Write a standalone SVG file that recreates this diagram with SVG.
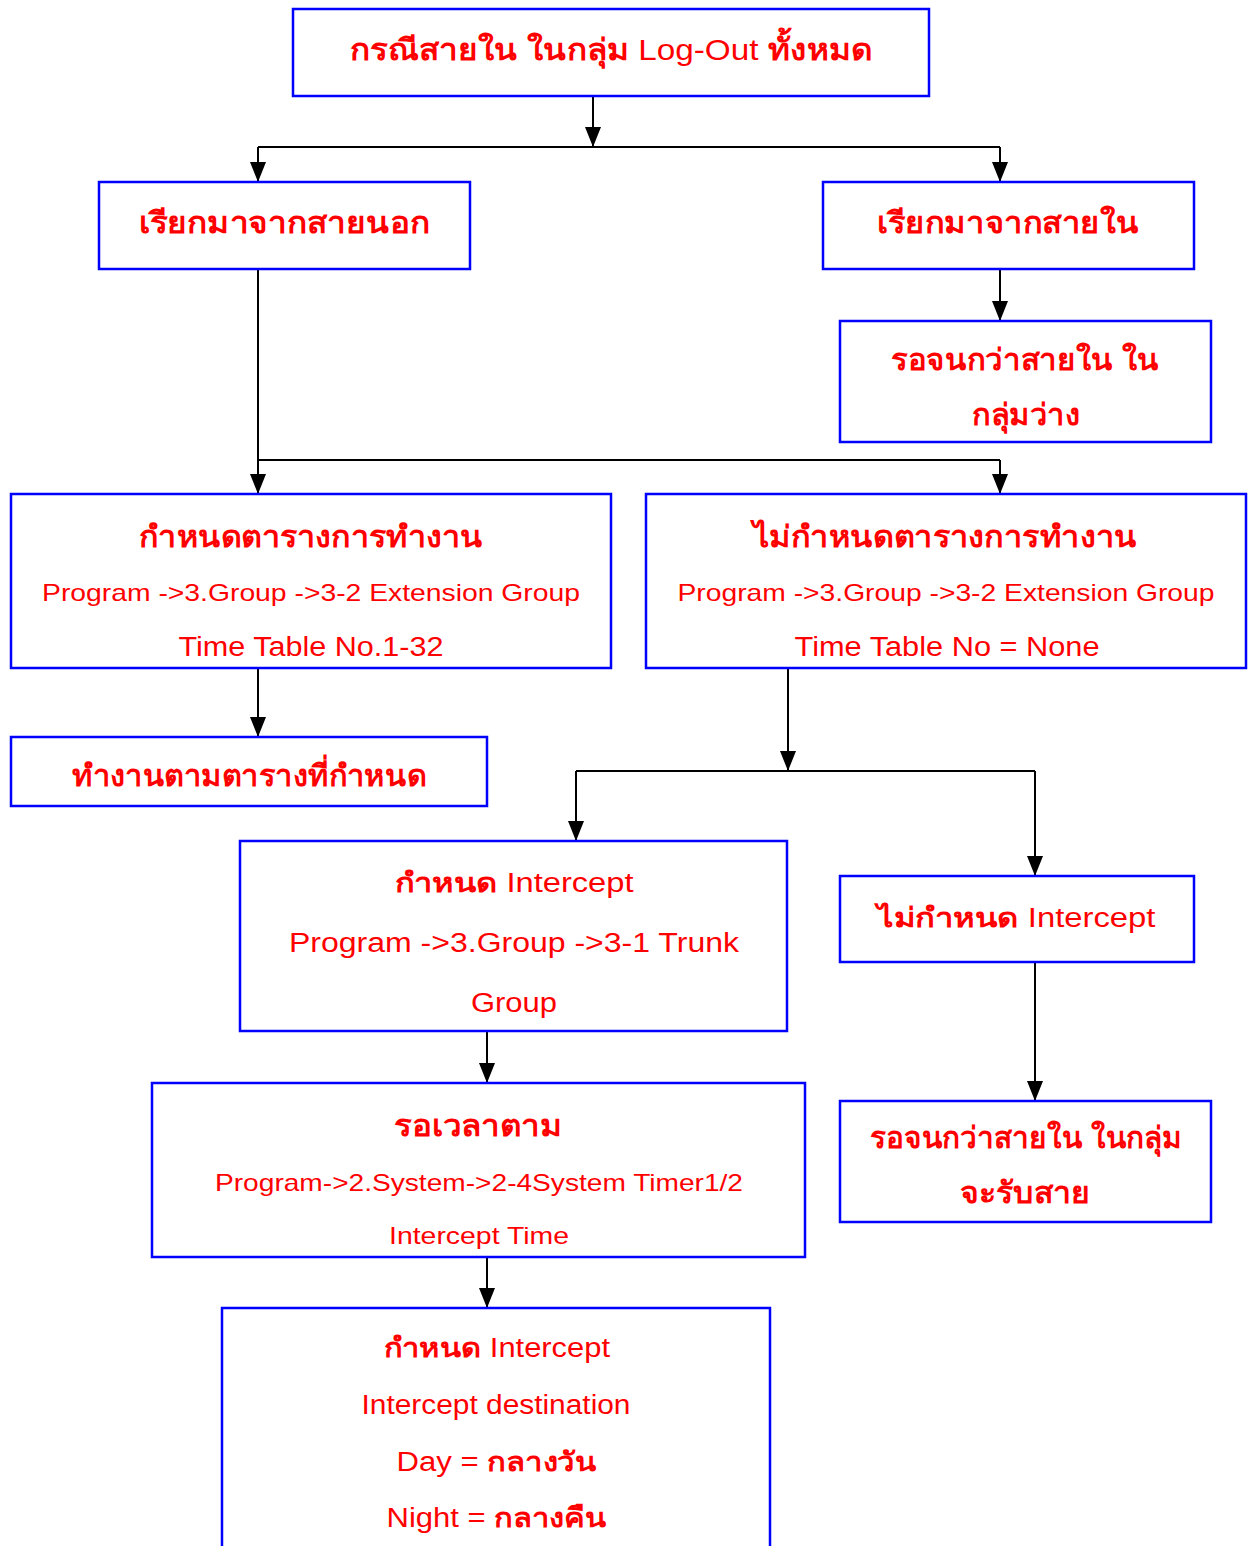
<svg xmlns="http://www.w3.org/2000/svg" width="1254" height="1546" viewBox="0 0 1254 1546">
<defs>
<marker id="arr" markerWidth="20" markerHeight="16" refX="20" refY="8" orient="auto" markerUnits="userSpaceOnUse" viewBox="0 0 20 16">
<path d="M0,0 L20,8 L0,16 Z" fill="#000"/>
</marker>
<style>
.box{fill:#fff;stroke:#0000ff;stroke-width:2.5}
.t{font-family:"Liberation Sans","Noto Sans",sans-serif;fill:#ff0000;text-anchor:middle}
.h{font-size:30px;font-weight:bold}
.s{font-size:24px}
.m{font-size:27px}
.c{fill:none;stroke:#000;stroke-width:2}
.ca{fill:none;stroke:#000;stroke-width:2;marker-end:url(#arr)}
</style>
</defs>
<rect width="1254" height="1546" fill="#fff"/>
<g id="connectors">
<path class="ca" d="M593,96 V147"/>
<path class="c" d="M258,147 H1000"/>
<path class="ca" d="M258,147 V182"/>
<path class="ca" d="M1000,147 V182"/>
<path class="ca" d="M1000,269 V321"/>
<path class="ca" d="M258,269 V494"/>
<path class="c" d="M258,460 H1000"/>
<path class="ca" d="M1000,460 V494"/>
<path class="ca" d="M258,668 V737"/>
<path class="ca" d="M788,668 V771"/>
<path class="c" d="M576,771 H1035"/>
<path class="ca" d="M576,771 V841"/>
<path class="ca" d="M1035,771 V876"/>
<path class="ca" d="M1035,962 V1101"/>
<path class="ca" d="M487,1031 V1083"/>
<path class="ca" d="M487,1257 V1308"/>
</g>
<g id="n1">
<rect class="box" x="293" y="9" width="636" height="87"/>
<text class="t h" x="611" y="60" textLength="522" lengthAdjust="spacingAndGlyphs">กรณีสายใน ในกลุ่ม <tspan font-weight="normal">Log-Out</tspan> ทั้งหมด</text>
</g>
<g id="n2">
<rect class="box" x="99" y="182" width="371" height="87"/>
<text class="t h" x="284" y="233" textLength="291" lengthAdjust="spacingAndGlyphs">เรียกมาจากสายนอก</text>
</g>
<g id="n3">
<rect class="box" x="823" y="182" width="371" height="87"/>
<text class="t h" x="1008" y="233" textLength="262" lengthAdjust="spacingAndGlyphs">เรียกมาจากสายใน</text>
</g>
<g id="n4">
<rect class="box" x="840" y="321" width="371" height="121"/>
<text class="t h" x="1025" y="370" textLength="268" lengthAdjust="spacingAndGlyphs">รอจนกว่าสายใน ใน</text>
<text class="t h" x="1026" y="425" textLength="108" lengthAdjust="spacingAndGlyphs">กลุ่มว่าง</text>
</g>
<g id="n5">
<rect class="box" x="11" y="494" width="600" height="174"/>
<text class="t h" x="311" y="547" textLength="344" lengthAdjust="spacingAndGlyphs">กำหนดตารางการทำงาน</text>
<text class="t s" x="311" y="601" textLength="538" lengthAdjust="spacingAndGlyphs">Program ->3.Group ->3-2 Extension Group</text>
<text class="t m" x="311" y="656" textLength="265" lengthAdjust="spacingAndGlyphs">Time Table No.1-32</text>
</g>
<g id="n6">
<rect class="box" x="646" y="494" width="600" height="174"/>
<text class="t h" x="945" y="547" textLength="384" lengthAdjust="spacingAndGlyphs">ไม่กำหนดตารางการทำงาน</text>
<text class="t s" x="946" y="601" textLength="537" lengthAdjust="spacingAndGlyphs">Program ->3.Group ->3-2 Extension Group</text>
<text class="t m" x="947" y="656" textLength="305" lengthAdjust="spacingAndGlyphs">Time Table No = None</text>
</g>
<g id="n7">
<rect class="box" x="11" y="737" width="476" height="69"/>
<text class="t h" x="249" y="786" textLength="354" lengthAdjust="spacingAndGlyphs">ทำงานตามตารางที่กำหนด</text>
</g>
<g id="n8">
<rect class="box" x="240" y="841" width="547" height="190"/>
<text class="t m" x="514" y="892" textLength="239" lengthAdjust="spacingAndGlyphs"><tspan font-weight="bold">กำหนด</tspan> Intercept</text>
<text class="t m" x="514" y="952" textLength="450" lengthAdjust="spacingAndGlyphs">Program ->3.Group ->3-1 Trunk</text>
<text class="t m" x="514" y="1012" textLength="86" lengthAdjust="spacingAndGlyphs">Group</text>
</g>
<g id="n9">
<rect class="box" x="840" y="876" width="354" height="86"/>
<text class="t m" x="1016" y="927" textLength="279" lengthAdjust="spacingAndGlyphs"><tspan font-weight="bold">ไม่กำหนด</tspan> Intercept</text>
</g>
<g id="n10">
<rect class="box" x="152" y="1083" width="653" height="174"/>
<text class="t h" x="478" y="1136" textLength="168" lengthAdjust="spacingAndGlyphs">รอเวลาตาม</text>
<text class="t s" x="479" y="1191" textLength="528" lengthAdjust="spacingAndGlyphs">Program->2.System->2-4System Timer1/2</text>
<text class="t s" x="479" y="1244" textLength="180" lengthAdjust="spacingAndGlyphs">Intercept Time</text>
</g>
<g id="n11">
<rect class="box" x="840" y="1101" width="371" height="121"/>
<text class="t h" x="1026" y="1148" textLength="312" lengthAdjust="spacingAndGlyphs">รอจนกว่าสายใน ในกลุ่ม</text>
<text class="t h" x="1025" y="1203" textLength="130" lengthAdjust="spacingAndGlyphs">จะรับสาย</text>
</g>
<g id="n12">
<rect class="box" x="222" y="1308" width="548" height="260"/>
<text class="t m" x="497" y="1357" textLength="226" lengthAdjust="spacingAndGlyphs"><tspan font-weight="bold">กำหนด</tspan> Intercept</text>
<text class="t m" x="496" y="1414" textLength="269" lengthAdjust="spacingAndGlyphs">Intercept destination</text>
<text class="t m" x="496" y="1471" textLength="199" lengthAdjust="spacingAndGlyphs">Day = <tspan font-weight="bold">กลางวัน</tspan></text>
<text class="t m" x="496" y="1527" textLength="219" lengthAdjust="spacingAndGlyphs">Night = <tspan font-weight="bold">กลางคืน</tspan></text>
</g>
</svg>
